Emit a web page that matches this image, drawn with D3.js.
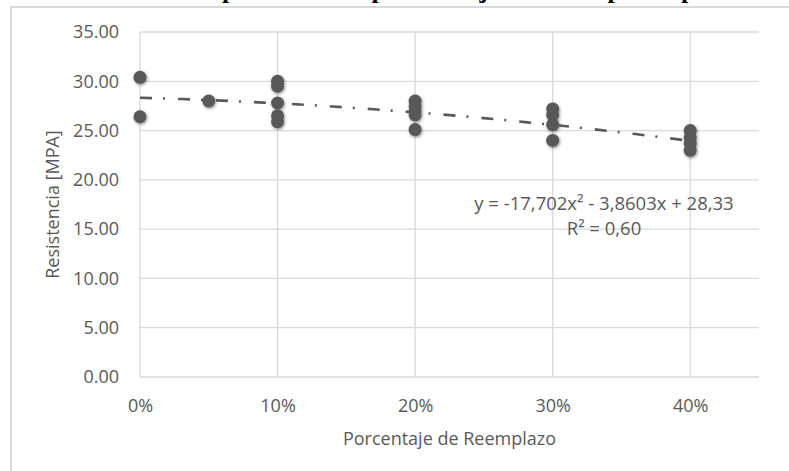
<!DOCTYPE html>
<html>
<head>
<meta charset="utf-8">
<script src="https://cdn.jsdelivr.net/npm/d3@7"></script>
<style>
  body { margin: 0; background: #fff; }
  text { font-family: "Open Sans", sans-serif; fill: #595959; }
</style>
</head>
<body>
<script>
// datos
var reemplazo = [0, 0, 0.05, 0.10, 0.10, 0.10, 0.10, 0.10, 0.20, 0.20, 0.20, 0.20, 0.20,
                 0.30, 0.30, 0.30, 0.30, 0.40, 0.40, 0.40, 0.40];
var resistencia = [30.4, 26.4, 28.0, 30.0, 29.5, 27.8, 26.5, 25.9, 28.0, 27.5, 27.0, 26.6, 25.1,
                   27.2, 26.6, 25.6, 24.0, 25.0, 24.3, 23.7, 23.0];
var yTicks = [0, 5, 10, 15, 20, 25, 30, 35];
var xTicks = [0, 0.1, 0.2, 0.3, 0.4];
var coefs = [-17.702, -3.8603, 28.33];   // a x^2 + b x + c
var ecuacion = ["y = -17,702x² - 3,8603x + 28,33", "R² = 0,60"];
var titulo = "Resistencia a la compresión con porcentaje de reemplazo parcial";

var width = 789, height = 471;
var svg = d3.select("body").append("svg")
    .attr("width", width)
    .attr("height", height);

// sombra de los marcadores
var filt = svg.append("defs").append("filter")
    .attr("id", "sombra")
    .attr("x", "-50%").attr("y", "-50%")
    .attr("width", "200%").attr("height", "200%");
filt.append("feDropShadow")
    .attr("dx", 0.8).attr("dy", 1.2)
    .attr("stdDeviation", 1.6)
    .attr("flood-color", "#000")
    .attr("flood-opacity", 0.45);

// titulo cortado arriba (solo se ven los trazos bajos)
var fs = 26;
var t = svg.append("text")
    .attr("x", 0).attr("y", 3.5 - 0.217 * fs)
    .style("font-family", "'Liberation Serif', serif")
    .style("font-weight", "bold")
    .style("font-size", fs + "px")
    .style("fill", "#000")
    .text(titulo);
var i1 = titulo.indexOf("p"), i2 = titulo.lastIndexOf("p");
var n = t.node();
var dist = n.getStartPositionOfChar(i2).x - n.getStartPositionOfChar(i1).x;
t.style("letter-spacing", ((686 - 227 - dist) / (i2 - i1)) + "px");
t.attr("x", 227 - 5 - n.getStartPositionOfChar(i1).x);

// marco
svg.append("rect")
    .attr("x", 11).attr("y", 7)
    .attr("width", 900).attr("height", 600)
    .attr("fill", "none")
    .attr("stroke", "#d9d9d9")
    .attr("stroke-width", 2);

var x = d3.scaleLinear().domain([0, 0.45]).range([140, 759]);
var y = d3.scaleLinear().domain([0, 35]).range([377, 32]);

// rejilla
svg.append("g").selectAll("line").data(yTicks).enter().append("line")
    .attr("x1", x(0)).attr("x2", x(0.45))
    .attr("y1", function (d) { return y(d); })
    .attr("y2", function (d) { return y(d); })
    .attr("stroke", "#d9d9d9").attr("stroke-width", 1.3);
svg.append("g").selectAll("line").data(xTicks).enter().append("line")
    .attr("x1", function (d) { return x(d); })
    .attr("x2", function (d) { return x(d); })
    .attr("y1", y(0)).attr("y2", y(35))
    .attr("stroke", "#d9d9d9").attr("stroke-width", 1.3);

// ejes
var yAxis = svg.append("g")
    .attr("transform", "translate(" + x(0) + ",0)")
    .call(d3.axisLeft(y).tickValues(yTicks).tickSize(0).tickPadding(21)
        .tickFormat(d3.format(".2f")));
var xAxis = svg.append("g")
    .attr("transform", "translate(0," + y(0) + ")")
    .call(d3.axisBottom(x).tickValues(xTicks).tickSize(0).tickPadding(22)
        .tickFormat(d3.format(".0%")));
[xAxis, yAxis].forEach(function (a) {
    a.select(".domain").remove();
    a.selectAll("text")
        .style("font-family", "'Open Sans', sans-serif")
        .style("font-size", "18px")
        .attr("fill", "#595959");
});

svg.append("text")
    .attr("x", (x(0) + x(0.45)) / 2).attr("y", 445)
    .attr("text-anchor", "middle")
    .style("font-size", "18px")
    .text("Porcentaje de Reemplazo");
svg.append("text")
    .attr("transform", "translate(59," + ((y(0) + y(35)) / 2) + ") rotate(-90)")
    .attr("text-anchor", "middle")
    .style("font-size", "18px")
    .text("Resistencia [MPA]");

// puntos
var puntos = reemplazo.map(function (d, i) { return [d, resistencia[i]]; });
svg.append("g").attr("filter", "url(#sombra)")
    .selectAll("circle").data(puntos).enter().append("circle")
    .attr("cx", function (d) { return x(d[0]); })
    .attr("cy", function (d) { return y(d[1]); })
    .attr("r", 6.5)
    .attr("fill", "#595959");

// linea de tendencia polinomica
var xs = d3.range(0, 41).map(function (k) { return k / 100; });
var linea = d3.line()
    .x(function (d) { return x(d); })
    .y(function (d) { return y(coefs[0] * d * d + coefs[1] * d + coefs[2]); });
svg.append("path")
    .datum(xs)
    .attr("d", linea)
    .attr("fill", "none")
    .attr("stroke", "#595959")
    .attr("stroke-width", 2.6)
    .attr("stroke-dasharray", "12 11 2 13");

// ecuacion
svg.append("g").selectAll("text").data(ecuacion).enter().append("text")
    .attr("x", 604)
    .attr("y", function (d, i) { return 210 + i * 25; })
    .attr("text-anchor", "middle")
    .style("font-size", "18.5px")
    .text(function (d) { return d; });
</script>
</body>
</html>
